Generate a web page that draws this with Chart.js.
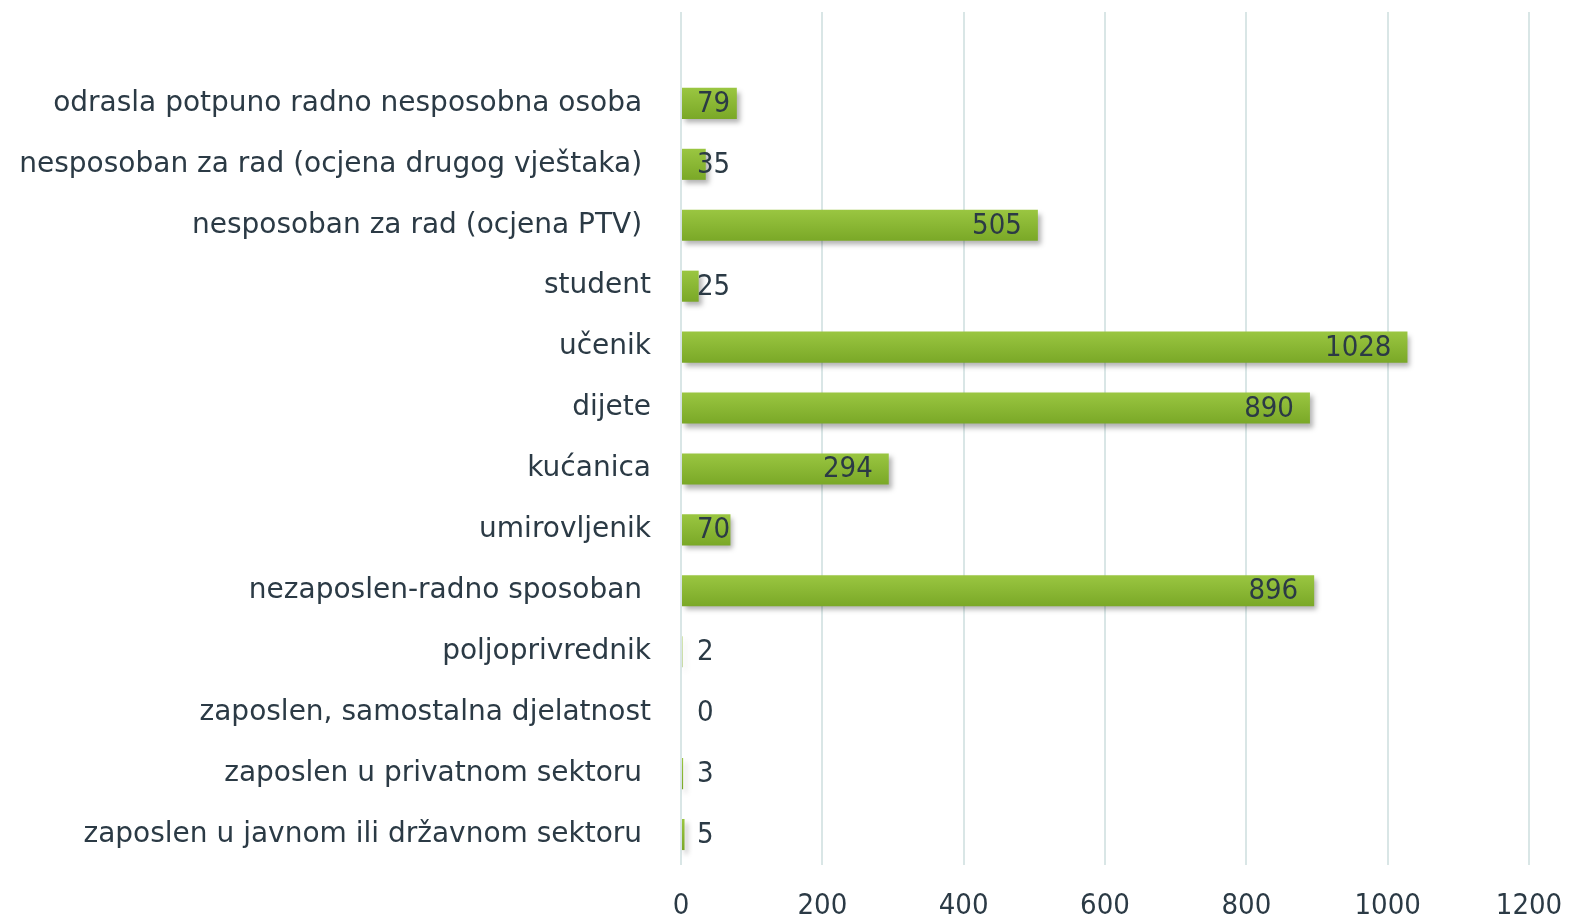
<!DOCTYPE html>
<html>
<head>
<meta charset="utf-8">
<script src="https://cdn.jsdelivr.net/npm/chart.js@4.4.1/dist/chart.umd.min.js"></script>
<style>
  html, body { margin: 0; padding: 0; background: #fff; }
  #wrap { width: 1570px; height: 919px; }
</style>
</head>
<body>
<div id="wrap"><canvas id="chart"></canvas></div>
<script>
// categories top to bottom (first one is the empty slot above the bars)
const categories = [
  "",
  "odrasla potpuno radno nesposobna osoba ",
  "nesposoban za rad (ocjena drugog vještaka) ",
  "nesposoban za rad (ocjena PTV) ",
  "student",
  "učenik",
  "dijete",
  "kućanica",
  "umirovljenik",
  "nezaposlen-radno sposoban ",
  "poljoprivrednik",
  "zaposlen, samostalna djelatnost",
  "zaposlen u privatnom sektoru ",
  "zaposlen u javnom ili državnom sektoru "
];
const counts = [null, 79, 35, 505, 25, 1028, 890, 294, 70, 896, 2, 0, 3, 5];
const xTicks = [0, 200, 400, 600, 800, 1000, 1200];

const LABEL_FONT = "'DejaVu Sans', sans-serif";
const NUM_FONT = "'DejaVu Sans Condensed', 'DejaVu Sans', sans-serif";
const TEXT = "#2b3a45";

function barGradient(c) {
  const chart = c.chart;
  const ys = chart.scales && chart.scales.y;
  if (!ys || !chart.chartArea) return "#8cba34";
  const y = ys.getPixelForValue(c.dataIndex);
  const h = (ys.bottom - ys.top) / categories.length * 0.51;
  const g = chart.ctx.createLinearGradient(0, y - h / 2, 0, y + h / 2);
  g.addColorStop(0, "#9ac641");
  g.addColorStop(1, "#7aa827");
  return g;
}

const shadowAndLabels = {
  id: "shadowAndLabels",
  beforeDatasetsDraw(chart) {
    const ctx = chart.ctx;
    ctx.save();
    ctx.shadowColor = "rgba(0,0,0,0.3)";
    ctx.shadowBlur = 5;
    ctx.shadowOffsetX = 3;
    ctx.shadowOffsetY = 4;
  },
  afterDatasetsDraw(chart) {
    const ctx = chart.ctx;
    ctx.restore();
    const meta = chart.getDatasetMeta(0);
    const x0 = chart.scales.x.getPixelForValue(0);
    ctx.save();
    ctx.font = "29px " + NUM_FONT;
    ctx.fillStyle = TEXT;
    ctx.textBaseline = "middle";
    ctx.textAlign = "left";
    meta.data.forEach((bar, i) => {
      const v = counts[i];
      if (v === null || v === undefined) return;
      const s = String(v);
      const w = ctx.measureText(s).width;
      const left = Math.max(bar.x - 16 - w, x0 + 16);
      ctx.fillText(s, left, bar.y + 1);
    });
    ctx.restore();
  }
};

new Chart(document.getElementById("chart"), {
  type: "bar",
  data: {
    labels: categories,
    datasets: [{
      data: counts,
      backgroundColor: barGradient,
      borderWidth: 0,
      barPercentage: 0.51,
      categoryPercentage: 1
    }]
  },
  options: {
    indexAxis: "y",
    responsive: true,
    maintainAspectRatio: false,
    animation: false,
    layout: { padding: { top: 12, right: 41, left: 0, bottom: 0 } },
    plugins: {
      legend: { display: false },
      tooltip: { enabled: false }
    },
    scales: {
      x: {
        min: 0,
        max: 1200,
        afterBuildTicks(scale) { scale.ticks = xTicks.map(v => ({ value: v })); },
        afterFit(scale) {
          scale.height = 54;
          scale.paddingLeft = 0;
          scale.paddingRight = 0;
        },
        grid: { color: "#d9e6e6", lineWidth: 2, drawTicks: false },
        border: { display: false },
        ticks: {
          color: TEXT,
          padding: 24,
          font: { family: NUM_FONT, size: 29 },
          callback: (v) => String(v)
        }
      },
      y: {
        afterFit(scale) {
          scale.width = 681;
          scale.paddingTop = 0;
          scale.paddingBottom = 0;
        },
        grid: { display: false, drawTicks: false },
        border: { display: false },
        ticks: {
          color: TEXT,
          padding: 30,
          autoSkip: false,
          font: { family: LABEL_FONT, size: 28 }
        }
      }
    }
  },
  plugins: [shadowAndLabels]
});
</script>
</body>
</html>
